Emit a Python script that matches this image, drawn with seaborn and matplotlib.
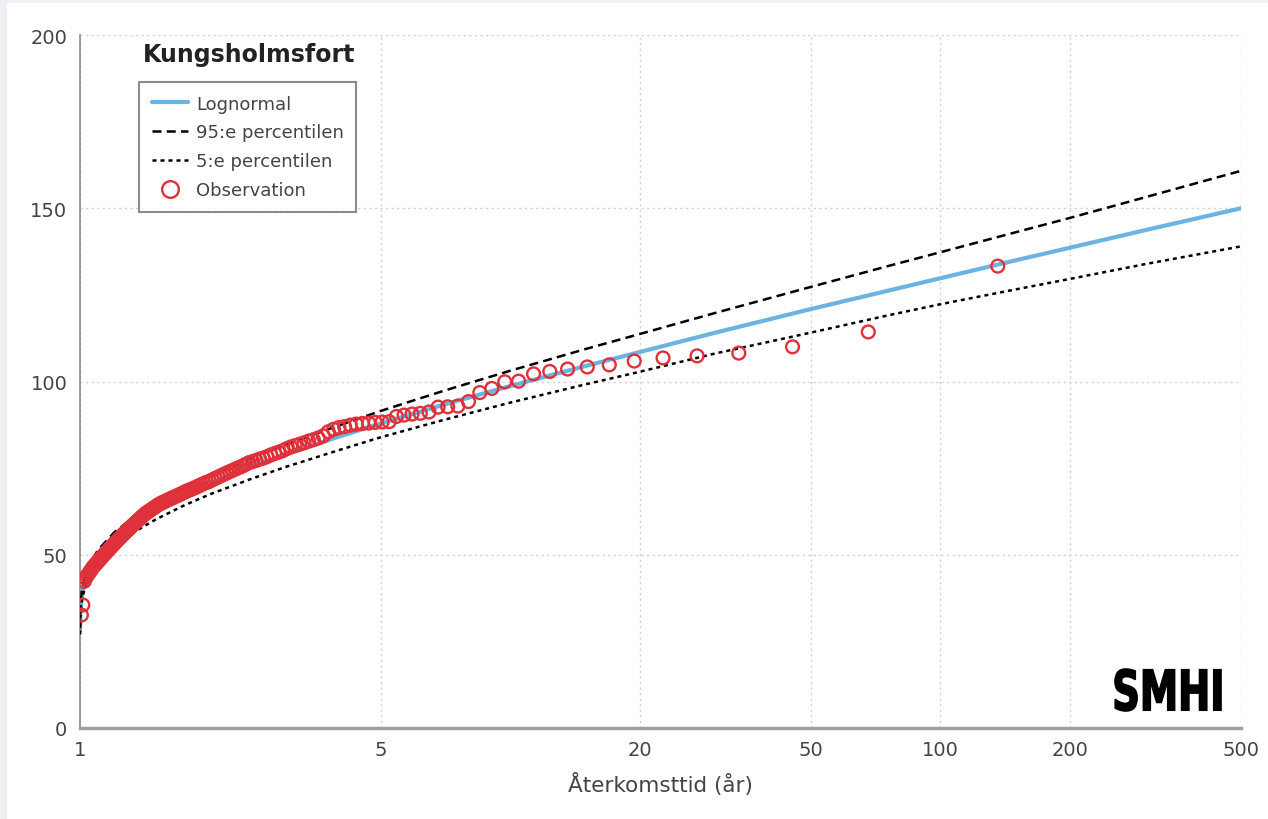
import numpy as np
import matplotlib
matplotlib.use("Agg")
import matplotlib.pyplot as plt
import seaborn as sns
from matplotlib.lines import Line2D
from matplotlib.patches import PathPatch, Rectangle
from matplotlib.textpath import TextPath
from matplotlib.font_manager import FontProperties
from matplotlib.transforms import Affine2D

# Observed annual maxima, sorted largest first (rank 1 = largest)
obs_values = [
    133.3, 114.3, 110.0, 108.2, 107.4, 106.8, 105.9, 104.8, 104.2, 103.6,
    102.9, 102.2, 100.1, 99.9, 98.0, 96.8, 94.2, 92.9, 92.7, 92.6,
    91.2, 90.8, 90.6, 90.3, 89.9, 88.4, 88.3, 88.2, 88.0, 87.9,
    87.7, 87.4, 87.0, 86.7, 86.2, 85.5, 84.3, 83.7, 83.2, 82.8,
    82.3, 81.9, 81.5, 81.1, 80.6, 80.0, 79.6, 79.2, 78.8, 78.3,
    77.9, 77.6, 77.2, 76.9, 76.6, 76.1, 75.6, 75.2, 74.8, 74.4,
    74.0, 73.6, 73.2, 72.8, 72.4, 72.0, 71.6, 71.2, 70.9, 70.6,
    70.2, 69.9, 69.5, 69.2, 68.9, 68.6, 68.3, 68.0, 67.6, 67.3,
    67.0, 66.7, 66.4, 66.1, 65.8, 65.5, 65.2, 64.9, 64.6, 64.2,
    63.8, 63.4, 63.0, 62.6, 62.2, 61.8, 61.3, 60.8, 60.3, 59.8,
    59.3, 58.8, 58.3, 57.8, 57.3, 56.8, 56.3, 55.8, 55.3, 54.8,
    54.3, 53.8, 53.3, 52.8, 52.3, 51.8, 51.3, 50.8, 50.3, 49.8,
    49.3, 48.8, 48.3, 47.8, 47.3, 46.8, 46.3, 45.7, 45.1, 44.5,
    43.9, 43.2, 42.3, 35.5, 32.6,
]

# fitted curves
fit_period = [1.0002, 1.001, 1.003, 1.01, 1.02, 1.05, 1.1, 1.2, 1.35, 1.5,
              1.75, 2, 2.5, 3, 4, 5, 7, 10, 15, 20,
              30, 50, 75, 100, 150, 200, 300, 500]
fit_lognormal = [27.8, 31.3, 34.3, 38.3, 41.0, 45.5, 49.7, 54.7, 59.5, 63.0,
                 67.3, 70.5, 75.3, 78.9, 84.1, 87.9, 93.3, 98.7, 104.5, 108.5,
                 114.1, 120.9, 126.1, 129.8, 135.0, 138.6, 143.7, 150.0]
fit_upper95 = [28.8, 32.5, 35.5, 39.6, 42.4, 47.0, 51.3, 56.4, 61.4, 65.0,
               69.5, 72.8, 77.9, 81.8, 87.3, 91.5, 97.3, 103.1, 109.4, 113.7,
               119.8, 127.3, 133.2, 137.3, 143.1, 147.2, 153.2, 160.8]
fit_lower5 = [27.0, 30.0, 32.8, 36.6, 39.2, 43.5, 47.5, 52.3, 56.9, 60.2,
              64.3, 67.4, 71.9, 75.3, 80.2, 83.9, 88.9, 93.9, 99.2, 102.8,
              108.1, 114.1, 119.0, 122.3, 126.6, 129.6, 133.9, 139.0]

x_ticks = [1, 5, 20, 50, 100, 200, 500]
y_ticks = [0, 50, 100, 150, 200]

# Weibull plotting position T = (n+1)/rank
n_obs = len(obs_values)
obs_period = (n_obs + 1) / np.arange(1, n_obs + 1)

sns.set_style("white")
plt.rcParams['font.family'] = ['DejaVu Sans']

W, H = 1268, 820
fig = plt.figure(figsize=(W / 100, H / 100), dpi=100)
fig.patch.set_facecolor('#eef0f3')
fig.add_artist(Rectangle((7 / W, 0), 1, 1 - 4 / H, transform=fig.transFigure,
                         facecolor='white', edgecolor='none', zorder=-10))

ax = fig.add_axes([80 / W, 1 - 729 / H, 1161 / W, 693 / H])
ax.set_facecolor('white')

blue = '#6db3e2'
red = '#e0303a'
lw_dash = 1.8
dash_long = (0, (3.6, 2.1))
dash_short = (0, (1.6, 1.6))

sns.lineplot(x=fit_period, y=fit_lognormal, ax=ax, color=blue, linewidth=3.0,
             sort=False, estimator=None, zorder=2)
sns.lineplot(x=fit_period, y=fit_upper95, ax=ax, color='black', linewidth=lw_dash,
             linestyle=dash_long, sort=False, estimator=None, zorder=3)
sns.lineplot(x=fit_period, y=fit_lower5, ax=ax, color='black', linewidth=lw_dash,
             linestyle=dash_short, sort=False, estimator=None, zorder=3)
sns.scatterplot(x=obs_period, y=obs_values, ax=ax, marker='o', s=85,
                facecolors='none', edgecolor=red, linewidth=1.7, zorder=4)

ax.set_xscale('log')
ax.set_xlim(1, 500)
ax.set_ylim(0, 200)
ax.set_xticks(x_ticks)
ax.set_xticklabels([str(t) for t in x_ticks])
ax.xaxis.set_minor_locator(matplotlib.ticker.NullLocator())
ax.set_yticks(y_ticks)

ax.grid(True, which='major', color='#cfcfcf', linestyle=(0, (1.5, 2.5)), linewidth=1.0)
ax.set_axisbelow(True)
for side in ['top', 'right']:
    ax.spines[side].set_visible(False)
ax.spines['left'].set_color('#8a8a8a')
ax.spines['left'].set_linewidth(1.2)
ax.spines['bottom'].set_color('#a0a0a0')
ax.spines['bottom'].set_linewidth(2.5)
ax.tick_params(axis='both', which='major', direction='out', length=5, width=1,
               color='#999999', labelsize=14, labelcolor='#444444', pad=4)

ax.set_xlabel('Återkomsttid (år)', fontsize=15.5, color='#444444', labelpad=9)
ax.set_ylabel('')

# station title above the legend box
fig.text(143 / W, 1 - 55 / H, 'Kungsholmsfort', fontsize=17, fontweight='bold',
         color='#222222', ha='left', va='center')

handles = [
    Line2D([], [], color=blue, linewidth=3.0),
    Line2D([], [], color='black', linewidth=lw_dash, linestyle=dash_long),
    Line2D([], [], color='black', linewidth=lw_dash, linestyle=dash_short),
    Line2D([], [], color=red, marker='o', linestyle='none', markersize=12,
           markerfacecolor='none', markeredgewidth=1.7),
]
labels = ['Lognormal', '95:e percentilen', '5:e percentilen', 'Observation']
leg = ax.legend(handles, labels, loc='upper left',
                bbox_to_anchor=((139 - 80) / 1161, (729 - 83) / 693),
                borderaxespad=0, fontsize=13, frameon=True, fancybox=False,
                handlelength=2.0, handletextpad=0.45, labelspacing=0.6,
                borderpad=0.7)
leg.get_frame().set_edgecolor('#707070')
leg.get_frame().set_linewidth(1.5)
for t in leg.get_texts():
    t.set_color('#444444')

# SMHI logo as a squashed bold text path (pixel coords)
tp = TextPath((0, 0), 'SMHI', size=100,
              prop=FontProperties(family='DejaVu Sans', weight='bold'))
ext = tp.get_extents()
x0, x1, y0, y1 = 1115, 1221, H - 712, H - 670
sx = (x1 - x0) / ext.width
sy = (y1 - y0) / ext.height
tr = Affine2D().translate(-ext.x0, -ext.y0).scale(sx, sy).translate(x0, y0)
logo = PathPatch(tr.transform_path(tp), facecolor='black', edgecolor='black',
                 linewidth=1.2, transform=matplotlib.transforms.IdentityTransform())
fig.add_artist(logo)

plt.savefig('out.png', dpi=100)
